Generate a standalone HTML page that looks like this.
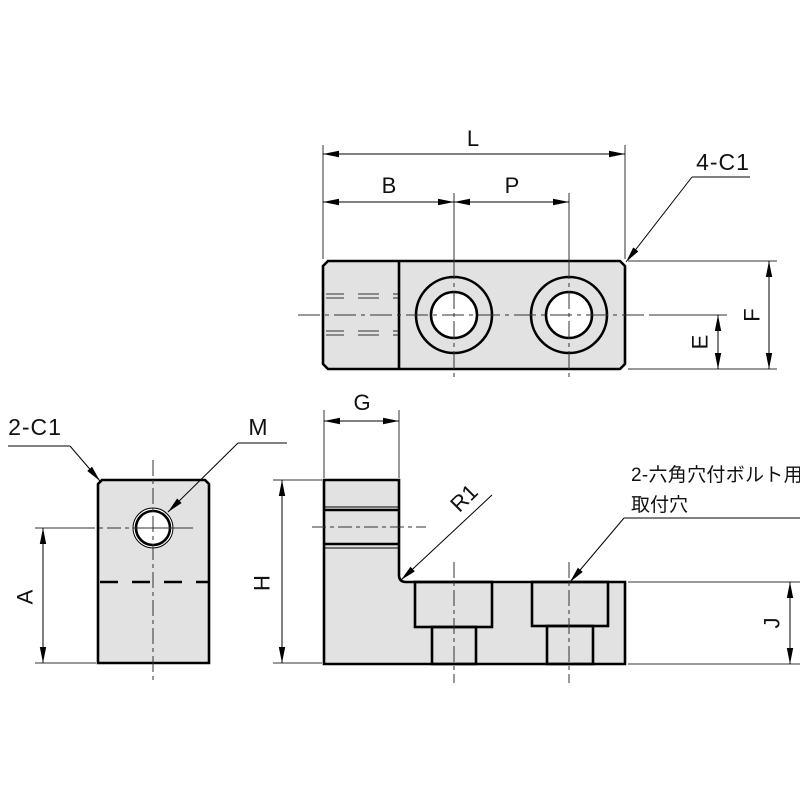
<!DOCTYPE html>
<html><head><meta charset="utf-8"><style>
html,body{margin:0;padding:0;background:#fff;}
svg{display:block;}
text{font-family:"Liberation Sans","Noto Sans CJK JP",sans-serif;fill:#111;}
</style></head><body>
<svg width="800" height="800" viewBox="0 0 800 800" xmlns="http://www.w3.org/2000/svg">
<defs>
<marker id="ar" viewBox="0 0 16 8" refX="16" refY="4" markerWidth="16" markerHeight="8" markerUnits="userSpaceOnUse" orient="auto-start-reverse">
<path d="M0,0.8 L16,4 L0,7.2 Z" fill="#000"/>
</marker>
</defs>

<!-- ============ TOP VIEW ============ -->
<polygon points="328,261 620,261 625,266 625,364 620,369 328,369 323,364 323,266" fill="#e2e2e2" stroke="#000" stroke-width="2.6"/>
<line x1="399" y1="261" x2="399" y2="369" stroke="#000" stroke-width="2.6"/>
<!-- hidden lines -->
<g stroke="#333" stroke-width="1.1">
<line x1="326" y1="294" x2="344" y2="294"/><line x1="358" y1="294" x2="379" y2="294"/><line x1="393" y1="294" x2="398" y2="294"/>
<line x1="326" y1="298" x2="344" y2="298"/><line x1="358" y1="298" x2="379" y2="298"/><line x1="393" y1="298" x2="398" y2="298"/>
<line x1="326" y1="331" x2="344" y2="331"/><line x1="358" y1="331" x2="379" y2="331"/><line x1="393" y1="331" x2="398" y2="331"/>
<line x1="326" y1="335" x2="344" y2="335"/><line x1="358" y1="335" x2="379" y2="335"/><line x1="393" y1="335" x2="398" y2="335"/>
</g>
<circle cx="454" cy="315" r="38" fill="none" stroke="#000" stroke-width="2.6"/>
<circle cx="454" cy="315" r="23" fill="#fff" stroke="#000" stroke-width="2.6"/>
<circle cx="569" cy="315" r="38" fill="none" stroke="#000" stroke-width="2.6"/>
<circle cx="569" cy="315" r="23" fill="#fff" stroke="#000" stroke-width="2.6"/>
<!-- center lines -->
<g stroke="#333" stroke-width="1">
<line x1="298" y1="315" x2="648" y2="315" stroke-dasharray="22 5 4 5"/>
<line x1="649" y1="315" x2="727" y2="315"/>
<line x1="454" y1="193" x2="454" y2="261"/>
<line x1="454" y1="261" x2="454" y2="378" stroke-dasharray="18 4 4 4"/>
<line x1="569" y1="193" x2="569" y2="261"/>
<line x1="569" y1="261" x2="569" y2="378" stroke-dasharray="18 4 4 4"/>
<!-- extension lines -->
<line x1="323" y1="145" x2="323" y2="259"/>
<line x1="625" y1="145" x2="625" y2="259"/>
<line x1="628" y1="261" x2="777" y2="261"/>
<line x1="628" y1="369" x2="777" y2="369"/>
</g>
<!-- dimension lines -->
<g stroke="#000" stroke-width="1">
<line x1="323" y1="154" x2="625" y2="154" marker-start="url(#ar)" marker-end="url(#ar)"/>
<line x1="323" y1="202" x2="454" y2="202" marker-start="url(#ar)" marker-end="url(#ar)"/>
<line x1="454" y1="202" x2="569" y2="202" marker-start="url(#ar)" marker-end="url(#ar)"/>
<line x1="769" y1="261" x2="769" y2="369" marker-start="url(#ar)" marker-end="url(#ar)"/>
<line x1="718" y1="315" x2="718" y2="369" marker-start="url(#ar)" marker-end="url(#ar)"/>
<!-- 4-C1 leader -->
<line x1="692" y1="177" x2="750" y2="177"/>
<line x1="692" y1="177" x2="626" y2="262" marker-end="url(#ar)"/>
</g>
<text x="473" y="146" font-size="22" text-anchor="middle">L</text>
<text x="389" y="193" font-size="22" text-anchor="middle">B</text>
<text x="512" y="193" font-size="22" text-anchor="middle">P</text>
<text x="723" y="170" font-size="23" text-anchor="middle" letter-spacing="1">4-C1</text>
<text x="0" y="0" font-size="22" text-anchor="middle" dominant-baseline="central" transform="translate(752,315) rotate(-90)">F</text>
<text x="0" y="0" font-size="22" text-anchor="middle" dominant-baseline="central" transform="translate(700,342) rotate(-90)">E</text>

<!-- ============ LEFT (SIDE) VIEW ============ -->
<polygon points="102,480 205,480 209,484 209,663 98,663 98,484" fill="#e2e2e2" stroke="#000" stroke-width="2.6"/>
<line x1="100" y1="582" x2="209" y2="582" stroke="#000" stroke-width="2.6" stroke-dasharray="18 14"/>
<circle cx="153" cy="528" r="20" fill="#fff" stroke="#000" stroke-width="1"/>
<circle cx="153" cy="528" r="17" fill="#fff" stroke="#000" stroke-width="2.6"/>
<g stroke="#333" stroke-width="1">
<line x1="153" y1="460" x2="153" y2="682" stroke-dasharray="16 4 4 4"/>
<line x1="35" y1="528" x2="197" y2="528" stroke-dasharray="60 4 4 4 14 4 4 4"/>
<line x1="35" y1="663" x2="96" y2="663"/>
<line x1="273" y1="480" x2="322" y2="480"/>
<line x1="273" y1="663" x2="322" y2="663"/>
</g>
<g stroke="#000" stroke-width="1">
<line x1="43" y1="528" x2="43" y2="663" marker-start="url(#ar)" marker-end="url(#ar)"/>
<line x1="282" y1="480" x2="282" y2="663" marker-start="url(#ar)" marker-end="url(#ar)"/>
<line x1="8" y1="446" x2="70" y2="446"/>
<line x1="70" y1="446" x2="100" y2="481" marker-end="url(#ar)"/>
<line x1="238" y1="443" x2="287" y2="443"/>
<line x1="238" y1="443" x2="168" y2="512" marker-end="url(#ar)"/>
</g>
<text x="35" y="435" font-size="23" text-anchor="middle" letter-spacing="1">2-C1</text>
<text x="258" y="435" font-size="23" text-anchor="middle">M</text>
<text x="0" y="0" font-size="22" text-anchor="middle" dominant-baseline="central" transform="translate(25,597) rotate(-90)">A</text>
<text x="0" y="0" font-size="22" text-anchor="middle" dominant-baseline="central" transform="translate(262,583) rotate(-90)">H</text>

<!-- ============ FRONT VIEW ============ -->
<path d="M324,480 L399,480 L399,575 Q399,582 406,582 L625,582 L625,664 L324,664 Z" fill="#e2e2e2" stroke="#000" stroke-width="2.6"/>
<line x1="324" y1="510" x2="399" y2="510" stroke="#000" stroke-width="2.6"/>
<line x1="324" y1="507" x2="399" y2="507" stroke="#000" stroke-width="1"/>
<line x1="324" y1="544" x2="399" y2="544" stroke="#000" stroke-width="2.6"/>
<line x1="324" y1="548" x2="399" y2="548" stroke="#000" stroke-width="1"/>
<g fill="none" stroke="#000" stroke-width="2.6">
<rect x="415" y="582" width="77" height="45"/>
<rect x="432" y="627" width="44" height="37"/>
<rect x="532" y="582" width="76" height="44"/>
<rect x="547" y="626" width="46" height="38"/>
</g>
<g stroke="#333" stroke-width="1">
<line x1="312" y1="527" x2="426" y2="527" stroke-dasharray="14 4 4 4"/>
<line x1="454" y1="562" x2="454" y2="683" stroke-dasharray="16 4 4 4"/>
<line x1="569" y1="562" x2="569" y2="683" stroke-dasharray="16 4 4 4"/>
<line x1="324" y1="410" x2="324" y2="478"/>
<line x1="399" y1="410" x2="399" y2="478"/>
<line x1="628" y1="582" x2="800" y2="582"/>
<line x1="628" y1="664" x2="800" y2="664"/>
</g>
<g stroke="#000" stroke-width="1">
<line x1="324" y1="421" x2="399" y2="421" marker-start="url(#ar)" marker-end="url(#ar)"/>
<line x1="790" y1="582" x2="790" y2="664" marker-start="url(#ar)" marker-end="url(#ar)"/>
<line x1="492" y1="495" x2="401" y2="580" marker-end="url(#ar)"/>
<line x1="624" y1="518" x2="800" y2="518"/>
<line x1="624" y1="518" x2="570" y2="582" marker-end="url(#ar)"/>
</g>
<text x="362" y="410" font-size="22" text-anchor="middle">G</text>
<text x="0" y="0" font-size="22" text-anchor="middle" dominant-baseline="central" transform="translate(464,498) rotate(-45)">R1</text>
<text x="0" y="0" font-size="22" text-anchor="middle" dominant-baseline="central" transform="translate(772,623) rotate(-90)">J</text>
<text x="631" y="481" font-size="19" letter-spacing="0.3">2-六角穴付ボルト用</text>
<text x="631" y="511" font-size="19">取付穴</text>
</svg>
</body></html>
